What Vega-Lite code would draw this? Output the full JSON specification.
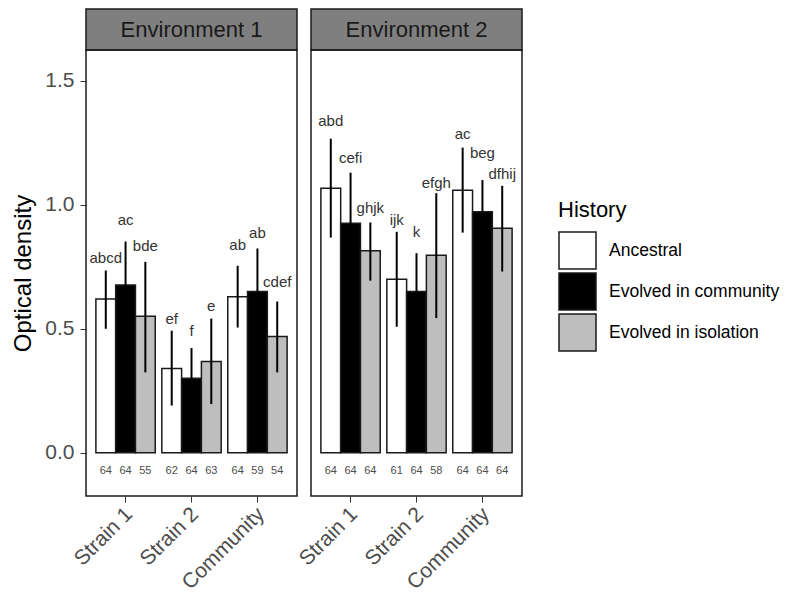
{
  "$schema": "https://vega.github.io/schema/vega-lite/v6.json",
  "padding": {"left": 11, "top": 8, "right": 0, "bottom": 0},
  "background": "white",
  "config": {
    "font": "Liberation Sans",
    "axis": {"grid": false, "domain": false, "tickColor": "#333333", "labelColor": "#4d4d4d", "labelFont": "Liberation Sans", "titleFont": "Liberation Sans", "titleFontWeight": "normal", "titleColor": "#000000"},
    "legend": {"titleFont": "Liberation Sans", "labelFont": "Liberation Sans"}
  },
  "datasets": {
    "d": [
      {"Env": "Environment 1", "Group": "Strain 1", "History": "Ancestral", "mean": 0.62, "lo": 0.5, "hi": 0.735, "letter": "abcd", "ly": 0.787, "n": "64"},
      {"Env": "Environment 1", "Group": "Strain 1", "History": "Evolved in community", "mean": 0.677, "lo": 0.5, "hi": 0.852, "letter": "ac", "ly": 0.938, "n": "64"},
      {"Env": "Environment 1", "Group": "Strain 1", "History": "Evolved in isolation", "mean": 0.55, "lo": 0.324, "hi": 0.77, "letter": "bde", "ly": 0.835, "n": "55"},
      {"Env": "Environment 1", "Group": "Strain 2", "History": "Ancestral", "mean": 0.34, "lo": 0.19, "hi": 0.492, "letter": "ef", "ly": 0.541, "n": "62"},
      {"Env": "Environment 1", "Group": "Strain 2", "History": "Evolved in community", "mean": 0.3, "lo": 0.18, "hi": 0.422, "letter": "f", "ly": 0.489, "n": "64"},
      {"Env": "Environment 1", "Group": "Strain 2", "History": "Evolved in isolation", "mean": 0.368, "lo": 0.196, "hi": 0.541, "letter": "e", "ly": 0.593, "n": "63"},
      {"Env": "Environment 1", "Group": "Community", "History": "Ancestral", "mean": 0.629, "lo": 0.505, "hi": 0.754, "letter": "ab", "ly": 0.837, "n": "64"},
      {"Env": "Environment 1", "Group": "Community", "History": "Evolved in community", "mean": 0.65, "lo": 0.476, "hi": 0.824, "letter": "ab", "ly": 0.888, "n": "59"},
      {"Env": "Environment 1", "Group": "Community", "History": "Evolved in isolation", "mean": 0.469, "lo": 0.324, "hi": 0.61, "letter": "cdef", "ly": 0.69, "n": "54"},
      {"Env": "Environment 2", "Group": "Strain 1", "History": "Ancestral", "mean": 1.067, "lo": 0.868, "hi": 1.267, "letter": "abd", "ly": 1.339, "n": "64"},
      {"Env": "Environment 2", "Group": "Strain 1", "History": "Evolved in community", "mean": 0.926, "lo": 0.72, "hi": 1.13, "letter": "cefi", "ly": 1.191, "n": "64"},
      {"Env": "Environment 2", "Group": "Strain 1", "History": "Evolved in isolation", "mean": 0.815, "lo": 0.694, "hi": 0.929, "letter": "ghjk", "ly": 0.987, "n": "64"},
      {"Env": "Environment 2", "Group": "Strain 2", "History": "Ancestral", "mean": 0.7, "lo": 0.508, "hi": 0.891, "letter": "ijk", "ly": 0.94, "n": "61"},
      {"Env": "Environment 2", "Group": "Strain 2", "History": "Evolved in community", "mean": 0.65, "lo": 0.495, "hi": 0.805, "letter": "k", "ly": 0.892, "n": "64"},
      {"Env": "Environment 2", "Group": "Strain 2", "History": "Evolved in isolation", "mean": 0.797, "lo": 0.543, "hi": 1.047, "letter": "efgh", "ly": 1.09, "n": "58"},
      {"Env": "Environment 2", "Group": "Community", "History": "Ancestral", "mean": 1.059, "lo": 0.888, "hi": 1.231, "letter": "ac", "ly": 1.285, "n": "64"},
      {"Env": "Environment 2", "Group": "Community", "History": "Evolved in community", "mean": 0.972, "lo": 0.844, "hi": 1.1, "letter": "beg", "ly": 1.211, "n": "64"},
      {"Env": "Environment 2", "Group": "Community", "History": "Evolved in isolation", "mean": 0.906, "lo": 0.731, "hi": 1.077, "letter": "dfhij", "ly": 1.126, "n": "64"}
    ]
  },
  "columns": 2,
  "bounds": "flush",
  "spacing": {"row": 0, "column": 14},
  "concat": [
    {
      "width": 211, "height": 41,
      "view": {"fill": "#7f7f7f", "stroke": "#1a1a1a", "strokeWidth": 1.5},
      "data": {"values": [{"Env": "Environment 1"}]},
      "mark": {"type": "text", "fontSize": 22, "color": "#1a1a1a", "baseline": "middle", "align": "center"},
      "encoding": {"text": {"field": "Env"}}
    },
    {
      "width": 211, "height": 41,
      "view": {"fill": "#7f7f7f", "stroke": "#1a1a1a", "strokeWidth": 1.5},
      "data": {"values": [{"Env": "Environment 2"}]},
      "mark": {"type": "text", "fontSize": 22, "color": "#1a1a1a", "baseline": "middle", "align": "center"},
      "encoding": {"text": {"field": "Env"}}
    },
    {
      "width": 211, "height": 446,
      "view": {"stroke": "#1a1a1a", "strokeWidth": 1.5},
      "data": {"name": "d"},
      "transform": [{"filter": "datum.Env == 'Environment 1'"}],
      "encoding": {
        "x": {"field": "Group", "type": "nominal", "scale": {"domain": ["Strain 1", "Strain 2", "Community"], "paddingInner": 0.1, "paddingOuter": 0.15},
              "axis": {"title": null, "labelAngle": -45, "labelAlign": "right", "labelBaseline": "top", "labelFontSize": 21, "tickSize": 6, "labelPadding": 1, "labelOffset": -4}},
        "xOffset": {"field": "History", "type": "nominal", "scale": {"domain": ["Ancestral", "Evolved in community", "Evolved in isolation"], "paddingInner": 0, "paddingOuter": 0}}
      },
      "layer": [
        {
          "mark": {"type": "bar", "stroke": "#1a1a1a", "strokeWidth": 1.5},
          "encoding": {
            "y": {"field": "mean", "type": "quantitative", "scale": {"domain": [-0.175, 1.625], "nice": false, "zero": false},
                  "axis": {"title": "Optical density", "titleFontSize": 24, "titlePadding": 9, "labelFontSize": 21, "values": [0, 0.5, 1, 1.5], "format": ".1f", "tickSize": 6, "labelPadding": 6}},
            "fill": {"field": "History", "type": "nominal", "scale": {"domain": ["Ancestral", "Evolved in community", "Evolved in isolation"], "range": ["#ffffff", "#000000", "#bebebe"]},
                     "legend": {"orient": "none", "legendX": 472, "legendY": 191, "title": "History", "titleFontSize": 22, "titleFontWeight": "normal", "titleColor": "#000000", "titlePadding": 9, "labelFontSize": 17.5, "labelLimit": 400, "labelColor": "#000000", "labelOffset": 12, "symbolType": "square", "symbolSize": 1369, "symbolStrokeColor": "#1a1a1a", "symbolStrokeWidth": 1.5, "rowPadding": -8, "padding": 0}}
          }
        },
        {
          "mark": {"type": "rule", "color": "#000000", "strokeWidth": 2},
          "encoding": {"y": {"field": "lo", "type": "quantitative"}, "y2": {"field": "hi"}}
        },
        {
          "mark": {"type": "text", "fontSize": 15, "color": "#333333", "baseline": "middle"},
          "encoding": {"y": {"field": "ly", "type": "quantitative"}, "text": {"field": "letter"}}
        },
        {
          "mark": {"type": "text", "fontSize": 11, "color": "#4d4d4d", "baseline": "middle"},
          "encoding": {"y": {"datum": -0.073}, "text": {"field": "n"}}
        }
      ]
    },
    {
      "width": 211, "height": 446,
      "view": {"stroke": "#1a1a1a", "strokeWidth": 1.5},
      "data": {"name": "d"},
      "transform": [{"filter": "datum.Env == 'Environment 2'"}],
      "encoding": {
        "x": {"field": "Group", "type": "nominal", "scale": {"domain": ["Strain 1", "Strain 2", "Community"], "paddingInner": 0.1, "paddingOuter": 0.15},
              "axis": {"title": null, "labelAngle": -45, "labelAlign": "right", "labelBaseline": "top", "labelFontSize": 21, "tickSize": 6, "labelPadding": 1, "labelOffset": -4}},
        "xOffset": {"field": "History", "type": "nominal", "scale": {"domain": ["Ancestral", "Evolved in community", "Evolved in isolation"], "paddingInner": 0, "paddingOuter": 0}}
      },
      "layer": [
        {
          "mark": {"type": "bar", "stroke": "#1a1a1a", "strokeWidth": 1.5},
          "encoding": {
            "y": {"field": "mean", "type": "quantitative", "scale": {"domain": [-0.175, 1.625], "nice": false, "zero": false}, "axis": null},
            "fill": {"field": "History", "type": "nominal", "scale": {"domain": ["Ancestral", "Evolved in community", "Evolved in isolation"], "range": ["#ffffff", "#000000", "#bebebe"]}}
          }
        },
        {
          "mark": {"type": "rule", "color": "#000000", "strokeWidth": 2},
          "encoding": {"y": {"field": "lo", "type": "quantitative"}, "y2": {"field": "hi"}}
        },
        {
          "mark": {"type": "text", "fontSize": 15, "color": "#333333", "baseline": "middle"},
          "encoding": {"y": {"field": "ly", "type": "quantitative"}, "text": {"field": "letter"}}
        },
        {
          "mark": {"type": "text", "fontSize": 11, "color": "#4d4d4d", "baseline": "middle"},
          "encoding": {"y": {"datum": -0.073}, "text": {"field": "n"}}
        }
      ]
    }
  ]
}
